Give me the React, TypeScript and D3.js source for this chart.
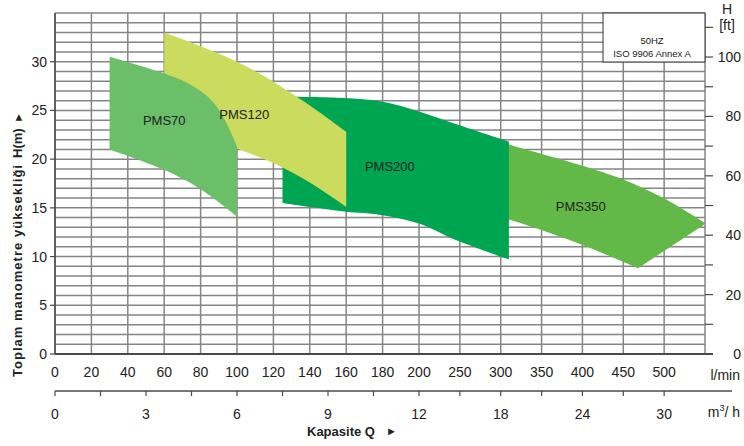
import React from "react";
import * as d3 from "d3";

// ---- data (flow in l/min, head in m) ----
const pms70Top: [number, number][] = [[30, 30.5], [60, 28.8], [72, 27.9], [84, 26.4], [91, 24.8], [96, 23.0], [100, 21.3]];
const pms70Bottom: [number, number][] = [[30, 21.0], [60, 18.9], [80, 16.9], [100, 14.1]];
const pms120Top: [number, number][] = [[60, 33.0], [80, 31.6], [100, 30.0], [115, 28.5], [140, 25.5], [160, 22.8]];
const pms120Bottom: [number, number][] = [[60, 23.6], [80, 22.5], [100, 21.1], [120, 19.6], [140, 17.6], [160, 15.1]];
const pms200Top: [number, number][] = [[125, 26.4], [155, 26.3], [180, 25.9], [200, 24.9], [245, 23.6], [310, 21.8]];
const pms200Bottom: [number, number][] = [[125, 15.5], [160, 14.6], [178, 14.3], [200, 13.4], [245, 11.7], [310, 9.7]];
const pms350Top: [number, number][] = [[300, 21.8], [310, 21.5], [397, 19.4], [450, 17.9], [499, 16.0], [551, 13.4]];
const pms350Bottom: [number, number][] = [[300, 14.0], [310, 13.8], [397, 11.3], [468, 8.8]];

const pumpNames = ["PMS350", "PMS200", "PMS120", "PMS70"];
const pumpColors = ["#63B947", "#00A551", "#CADB5E", "#6BBF69"];
const pumpTops = [pms350Top, pms200Top, pms120Top, pms70Top];
const pumpBottoms = [pms350Bottom, pms200Bottom, pms120Bottom, pms70Bottom];
const labelFlow = [398, 184, 104, 60];
const labelHead = [15.1, 19.2, 24.6, 24.0];

const flowTicks = [0, 20, 40, 60, 80, 100, 120, 140, 160, 180, 200, 250, 300, 350, 400, 450, 500];
const flowGrid = [...flowTicks, 550];
const headTicks = [0, 5, 10, 15, 20, 25, 30];
const headGrid = d3.range(0, 36, 1);
const ftLabels = [0, 20, 40, 60, 80, 100];
const ftTicks = [0, 10, 20, 30, 40, 50, 60, 70, 80, 90, 100, 110];
const m3hLabels = [0, 3, 6, 9, 12, 18, 24, 30];
const m3hTicks = [0, 1.5, 3, 4.5, 6, 7.5, 9, 10.5, 12, 15, 18, 21, 24, 27, 30];

const FONT = "'Liberation Sans', Arial, Helvetica, sans-serif";

export default function App() {
  const W = 744, H = 446;
  const left = 55, right = 705, top = 13, bottom = 354;
  const x = d3.scaleLinear().domain([0, 200, 550]).range([left, 419, right]);
  const y = d3.scaleLinear().domain([0, 35]).range([bottom, top]);
  const yft = d3.scaleLinear().domain([0, 35 / 0.3048]).range([bottom, top]);
  const xq = (q: number) => x((q * 1000) / 60);

  const line = d3
    .line<[number, number]>()
    .x((d) => x(d[0]))
    .y((d) => y(d[1]))
    .curve(d3.curveCatmullRom.alpha(0.5));

  const regionPath = (t: [number, number][], b: [number, number][]) => {
    const tp = line(t) || "";
    const bp = (line(b.slice().reverse()) || "").replace(/^M/, "L");
    return tp + bp + "Z";
  };

  const grid = "#858585";
  const axisCol = "#4a4a4a";

  return (
    <svg width={W} height={H} style={{ position: "absolute", left: 0, top: 0, background: "#fff" }} fontFamily={FONT}>
      <rect x={0} y={0} width={W} height={H} fill="#fff" />
      {/* grid */}
      {headGrid.map((h) => (
        <line key={"h" + h} x1={left} x2={right} y1={y(h)} y2={y(h)} stroke={grid} strokeWidth={1.5} />
      ))}
      {flowGrid.map((f) => (
        <line key={"v" + f} x1={x(f)} x2={x(f)} y1={top} y2={bottom} stroke={grid} strokeWidth={1.5} />
      ))}
      {/* regions */}
      {pumpNames.map((n, i) => (
        <path key={n} d={regionPath(pumpTops[i], pumpBottoms[i])} fill={pumpColors[i]} />
      ))}
      {pumpNames.map((n, i) => (
        <text key={"l" + n} x={x(labelFlow[i])} y={y(labelHead[i])} dy="0.35em" textAnchor="middle" fontSize={13} fill="#222">
          {n}
        </text>
      ))}
      {/* left axis */}
      <line x1={left} x2={left} y1={top} y2={bottom} stroke={axisCol} strokeWidth={1.5} />
      {headTicks.map((h) => (
        <g key={"ht" + h}>
          <line x1={left - 5} x2={left} y1={y(h)} y2={y(h)} stroke={axisCol} strokeWidth={1.2} />
          <text x={47} y={y(h)} dy="0.36em" textAnchor="end" fontSize={14} fill="#222">
            {h}
          </text>
        </g>
      ))}
      {/* bottom axis line */}
      <line x1={left} x2={713} y1={bottom} y2={bottom} stroke={axisCol} strokeWidth={2} />
      {flowTicks.map((f) => (
        <text key={"ft" + f} x={x(f)} y={377} textAnchor="middle" fontSize={14} fill="#222">
          {f}
        </text>
      ))}
      <text x={740} y={380} textAnchor="end" fontSize={14} fill="#222">l/min</text>
      {/* right axis */}
      {ftTicks.map((t) => (
        <line key={"rt" + t} x1={right} x2={713} y1={yft(t)} y2={yft(t)} stroke={axisCol} strokeWidth={1.2} />
      ))}
      {ftLabels.map((t) => (
        <text key={"rl" + t} x={741} y={yft(t)} dy="0.36em" textAnchor="end" fontSize={14} fill="#222">
          {t}
        </text>
      ))}
      <text x={727} y={13.5} textAnchor="middle" fontSize={14} fill="#222">H</text>
      <text x={727} y={30} textAnchor="middle" fontSize={14} fill="#222">[ft]</text>
      {/* info box */}
      <rect x={603} y={top} width={right - 603} height={49} fill="#fff" stroke="#333" strokeWidth={1} />
      <text x={652} y={43.5} textAnchor="middle" fontSize={9.5} fill="#222">50HZ</text>
      <text x={652} y={56.5} textAnchor="middle" fontSize={9.5} fill="#222">ISO 9906 Annex A</text>
      {/* m3/h axis */}
      <line x1={left} x2={732} y1={391} y2={391} stroke={axisCol} strokeWidth={1.5} />
      {m3hTicks.map((q) => (
        <line key={"qt" + q} x1={xq(q)} x2={xq(q)} y1={391} y2={396} stroke={axisCol} strokeWidth={1.2} />
      ))}
      {m3hLabels.map((q) => (
        <text key={"ql" + q} x={xq(q)} y={419} textAnchor="middle" fontSize={14} fill="#222">
          {q}
        </text>
      ))}
      <text x={740} y={417} textAnchor="end" fontSize={14} fill="#222">
        m<tspan fontSize={9} dy={-6}>3</tspan>
        <tspan dy={6}>/ h</tspan>
      </text>
      <text x={307} y={436} fontSize={13} fontWeight="bold" fill="#222">Kapasite Q</text>
      <text x={386} y={435} fontSize={11} fill="#222">►</text>
      {/* left title */}
      <text transform="translate(22,377) rotate(-90)" fontSize={13} fontWeight="bold" fill="#222" textLength={212} lengthAdjust="spacing">
        Toplam manometre yüksekliği
      </text>
      <text transform="translate(22,158) rotate(-90)" fontSize={13} fontWeight="bold" fill="#222">
        H(m)
      </text>
      <text transform="translate(22,123) rotate(-90)" fontSize={11} fill="#222">►</text>
    </svg>
  );
}
